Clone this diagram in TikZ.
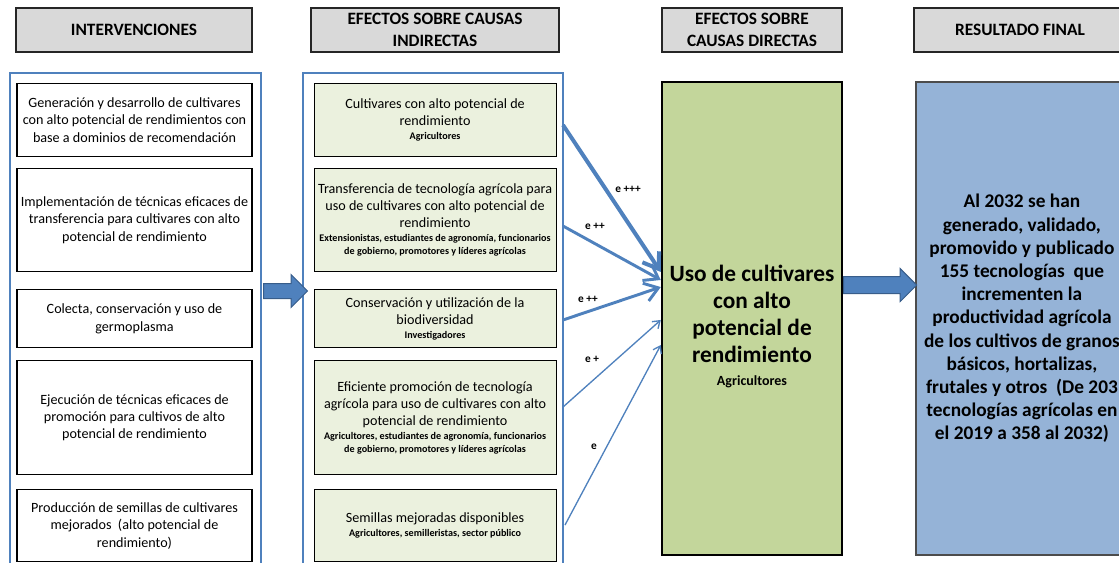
\documentclass[tikz,border=0pt]{standalone}
\usepackage{fontspec}
\setmainfont{Carlito}
\usepackage{tikz}
\usetikzlibrary{positioning,arrows.meta,shapes.arrows}
\usepackage{xcolor}

\definecolor{cabgris}{HTML}{D9D9D9}
\definecolor{marcoazul}{HTML}{4F81BD}
\definecolor{flechaborde}{HTML}{385D8A}
\definecolor{verdeclaro}{HTML}{EBF1DE}
\definecolor{verdeuso}{HTML}{C3D69B}
\definecolor{azulres}{HTML}{95B3D7}
\newcommand{\actor}{\fontsize{7.6}{9.8}\selectfont\bfseries}

\begin{document}
\begin{tikzpicture}[
  x=0.75pt, y=-0.75pt,
  cab/.style={draw=black!85, line width=1.5pt, fill=cabgris, minimum height=33pt, align=center, font=\fontsize{13}{16.5}\selectfont\bfseries},
  marco/.style={draw=marcoazul, line width=1.5pt, minimum width=#1, minimum height=425.25pt},
  interv/.style={draw, line width=0.8pt, fill=white, text width=176.25pt, inner xsep=0pt, align=flush center, font=\fontsize{10.6}{13}\selectfont},
  efecto/.style={draw, line width=0.8pt, fill=verdeclaro, text width=181.5pt, inner xsep=0pt, align=flush center, font=\fontsize{10.6}{12.8}\selectfont},
  arrow/.style={draw=marcoazul, -{Straight Barb[length=10pt, width=14pt]}},
  etiq/.style={font=\fontsize{8.5}{10}\selectfont\bfseries},
  flecha/.style={single arrow, draw=flechaborde, fill=marcoazul, line width=0.75pt, inner xsep=0pt}
]
\useasboundingbox (0,0) rectangle (1119,563);
\clip (0,0) rectangle (1119,563);

% encabezados
\node[cab, minimum width=177pt] (h1) at (134,30) {INTERVENCIONES};
\node[cab, minimum width=186pt] (h2) at (435,30) {EFECTOS SOBRE CAUSAS\\INDIRECTAS};
\node[cab, minimum width=135pt] (h3) at (752,30) {EFECTOS SOBRE\\CAUSAS DIRECTAS};
\node[cab, minimum width=159pt] (h4) at (1020,30) {RESULTADO FINAL};

% marcos de columnas
\node[marco=188.25pt] (colizq) at (135.5,356.5) {};
\node[marco=195pt] (colmed) at (433,356.5) {};

% intervenciones
\node[interv, minimum height=54.75pt, anchor=north] (i1) at (134.5,83) {Generación y desarrollo de cultivares\\con alto potencial de rendimientos con\\base a dominios de recomendación};
\node[interv, minimum height=77.25pt, below=8.25pt of i1] (i2) {Implementación de técnicas eficaces de\\transferencia para cultivares con alto\\potencial de rendimiento};
\node[interv, minimum height=43.5pt, below=12.75pt of i2] (i3) {Colecta, conservación y uso de\\germoplasma};
\node[interv, minimum height=85.5pt, below=9pt of i3] (i4) {Ejecución de técnicas eficaces de\\promoción para cultivos de alto\\potencial de rendimiento};
\node[interv, minimum height=54pt, below=10.5pt of i4] (i5) {Producción de semillas de cultivares\\mejorados\ \ (alto potencial de\\rendimiento)};

% efectos indirectos
\node[efecto, minimum height=54.75pt, right=45.75pt of i1] (m1) {Cultivares con alto potencial de\\rendimiento\\[0.5pt]\actor Agricultores\par};
\node[efecto, minimum height=77.25pt, right=45.75pt of i2] (m2) {Transferencia de tecnología agrícola para\\uso de cultivares con alto potencial de\\rendimiento\\[0.5pt]\actor Extensionistas, estudiantes de agronomía, funcionarios\\de gobierno, promotores y líderes agrícolas\par};
\node[efecto, minimum height=43.5pt, right=45.75pt of i3] (m3) {Conservación y utilización de la\\biodiversidad\\[0.5pt]\actor Investigadores\par};
\node[efecto, minimum height=85.5pt, right=45.75pt of i4] (m4) {Eficiente promoción de tecnología\\agrícola para uso de cultivares con alto\\potencial de rendimiento\\[0.5pt]\actor Agricultores, estudiantes de agronomía, funcionarios\\de gobierno, promotores y líderes agrícolas\par};
\node[efecto, minimum height=54pt, right=45.75pt of i5] (m5) {Semillas mejoradas disponibles\\[0.5pt]\actor Agricultores, semilleristas, sector público\par};

% efecto directo y resultado
\node[draw, line width=1.8pt, fill=verdeuso, minimum width=135pt, minimum height=354.75pt, text width=135pt, inner xsep=0pt, align=flush center, font=\fontsize{17.5}{20.3}\selectfont\bfseries] (uso) at (752,318.5) {\rule{0pt}{24pt}Uso de cultivares\\con alto\\potencial de\\rendimiento\\[-3pt]\fontsize{10.5}{12.6}\selectfont Agricultores};
\node[draw=black!70, line width=1.1pt, fill=azulres, minimum width=159pt, minimum height=354.75pt, text width=159pt, inner xsep=0pt, align=flush center, font=\fontsize{14.5}{17.4}\selectfont\bfseries, right=54pt of uso] (res) {Al 2032 se han\\generado, validado,\\promovido y publicado\\155 tecnologías\ \ que\\incrementen la\\productividad agrícola\\de los cultivos de granos\\básicos, hortalizas,\\frutales y otros\ \ (De 203\\tecnologías agrícolas en\\el 2019 a 358 al 2032)};

% flechas de bloque
\node[flecha, inner ysep=5.25pt, single arrow head extend=6.75pt, minimum height=33pt, anchor=tail] (fA) at (263,291) {};
\node[flecha, inner ysep=6pt, single arrow head extend=6pt, minimum height=54.75pt, anchor=tail] (fB) at ([yshift=25.1pt]uso.east) {};

% conectores
\coordinate (s1) at (563,125);
\coordinate (s2) at (563,226);
\coordinate (s3) at (563,320);
\coordinate (s4) at (563,407);
\coordinate (s5) at (565,525);
\draw[arrow, line width=3pt, -{Straight Barb[length=11pt, width=15pt]}] (s1) -- ([yshift=34.9pt]uso.west);
\draw[arrow, line width=2.2pt] (s2) -- ([yshift=28.9pt]uso.west);
\draw[arrow, line width=2.2pt] (s3) -- ([yshift=23.6pt]uso.west);
\draw[arrow, line width=1pt, -{Straight Barb[length=5pt, width=7pt]}] (s4) -- ([yshift=-1.1pt]uso.west);
\draw[arrow, line width=1pt, -{Straight Barb[length=5pt, width=7pt]}] (s5) -- ([yshift=-19.9pt]uso.west);

\node[etiq] (e1) at (628,189) {e +++};
\node[etiq] (e2) at (595,226) {e ++};
\node[etiq] (e3) at (588,299) {e ++};
\node[etiq] (e4) at (592,359) {e +};
\node[etiq] (e5) at (594,447) {e};
\end{tikzpicture}
\end{document}
